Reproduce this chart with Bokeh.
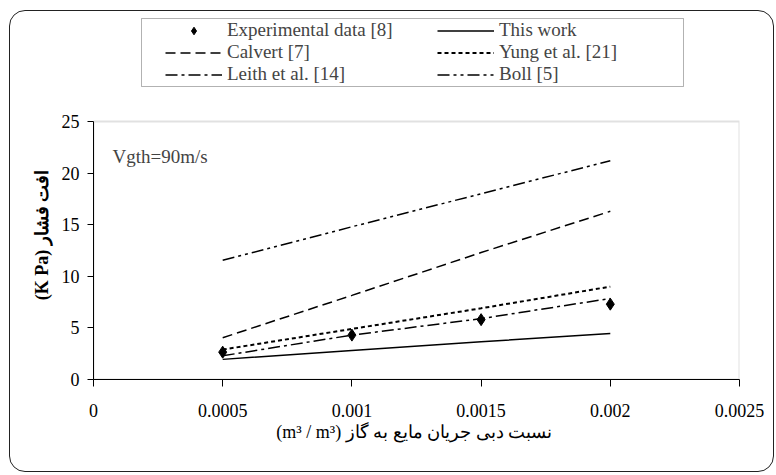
from math import pi
from bokeh.plotting import figure
from bokeh.models import (Range1d, Label, Legend, LegendItem, FixedTicker,
                          BoxAnnotation, InlineStyleSheet)
from bokeh.embed import file_html
from bokeh.resources import INLINE

# ---- data ----
ratio = [0.0005, 0.001, 0.0015, 0.002]
experimental = [2.65, 4.3, 5.8, 7.3]
this_work = [1.95, 2.8, 3.65, 4.45]
calvert = [4.05, 8.15, 12.3, 16.3]
yung = [2.9, 4.9, 6.9, 9.0]
leith = [2.3, 4.3, 5.9, 7.85]
boll = [11.55, 14.8, 18.0, 21.2]

x_ticks = [0, 0.0005, 0.001, 0.0015, 0.002, 0.0025]
x_tick_labels = ["0", "0.0005", "0.001", "0.0015", "0.002", "0.0025"]
y_ticks = [0, 5, 10, 15, 20, 25]
x_max = 0.0025
y_max = 25

series_names = ["Experimental data [8]", "This work", "Calvert [7]",
                "Yung et al. [21]", "Leith et al. [14]", "Boll [5]"]
annotation_text = "Vgth=90m/s"
y_title = "(K Pa) افت فشار"
x_title = "(m³ / m³)  نسبت دبی جریان مایع به گاز"

FONT = "Liberation Serif"

W, H = 776, 475
LEFT, RIGHT, BOTTOM = 93, 37, 96
AXIS_TOP_PX = 121            # where y = 25 sits on the canvas
frame_h = H - BOTTOM         # frame reaches the top of the canvas
y_end = y_max * frame_h / (frame_h - AXIS_TOP_PX)

# rounded outer frame of the whole chart
border_css = InlineStyleSheet(css="""
:host::after {
  content: "";
  position: absolute;
  box-sizing: border-box;
  left: 9px; top: 10px; width: 765px; height: 462px;
  border: 1.5px solid #222;
  border-radius: 16px;
  pointer-events: none;
}
""")

p = figure(width=W, height=H, output_backend="svg", toolbar_location=None,
           x_range=Range1d(0, x_max), y_range=Range1d(0, y_end),
           min_border_left=LEFT, min_border_right=RIGHT, min_border_top=0,
           min_border_bottom=BOTTOM, stylesheets=[border_css])
p.background_fill_color = "white"
p.border_fill_color = "white"
p.xgrid.grid_line_color = None
p.ygrid.grid_line_color = None
p.outline_line_color = None

for ax in (p.xaxis[0], p.yaxis[0]):
    ax.axis_line_color = "black"
    ax.axis_line_width = 1
    ax.major_tick_line_color = "black"
    ax.major_tick_in = 0
    ax.minor_tick_line_color = None
    ax.major_label_text_font = FONT
    ax.major_label_text_font_size = "18px"
    ax.major_label_text_color = "black"
    ax.axis_label_text_font = FONT
    ax.axis_label_text_font_size = "18px"
    ax.axis_label_text_color = "black"

p.xaxis.ticker = FixedTicker(ticks=x_ticks)
p.xaxis.major_label_overrides = {t: s for t, s in zip(x_ticks, x_tick_labels)}
p.xaxis.major_tick_out = 7
p.xaxis.major_label_standoff = 17
p.xaxis.axis_label = x_title
p.xaxis.axis_label_text_font_style = "normal"
p.xaxis.axis_label_standoff = 2

p.yaxis.ticker = FixedTicker(ticks=y_ticks)
p.yaxis.bounds = (0, y_max)
p.yaxis.major_tick_out = 6
p.yaxis.major_label_standoff = 8
# the title is centred on the whole frame; trailing no-break spaces move it
# down to the middle of the 0-25 axis, as in the reference
p.yaxis.axis_label = y_title + "\u00a0" * 20
p.yaxis.axis_label_text_font_style = "bold"
p.yaxis.axis_label_standoff = 7

# grey border of the plotting area (left/bottom hidden under the axes)
p.add_layout(BoxAnnotation(left=0, right=x_max, bottom=0, top=y_max,
                           fill_alpha=0, line_color="#9a9a9a", line_width=2,
                           level="underlay"))

r_this = p.line(ratio, this_work, line_color="black", line_width=1.5)
r_cal = p.line(ratio, calvert, line_color="black", line_width=1.5, line_dash="10 5")
r_yung = p.line(ratio, yung, line_color="black", line_width=2, line_dash="4 3")
r_leith = p.line(ratio, leith, line_color="black", line_width=1.5, line_dash="12 4 3 4")
r_boll = p.line(ratio, boll, line_color="black", line_width=1.5, line_dash="12 4 3 4 3 4")
r_exp = p.scatter(ratio, experimental, marker="diamond", size=12, color="black")

# legend frame
p.add_layout(BoxAnnotation(left=141, right=683, top=18, bottom=86,
                           left_units="canvas", right_units="canvas",
                           top_units="canvas", bottom_units="canvas",
                           fill_color="white", fill_alpha=1,
                           line_color="black", line_width=1))

rmap = dict(zip(series_names, [r_exp, r_this, r_cal, r_yung, r_leith, r_boll]))
# legend fills column by column: left column first
legend_order = ["Experimental data [8]", "Calvert [7]", "Leith et al. [14]",
                "This work", "Yung et al. [21]", "Boll [5]"]
legend = Legend(items=[LegendItem(label=n, renderers=[rmap[n]]) for n in legend_order],
                ncols=2, location=(72, 294), padding=0, spacing=0, margin=0,
                glyph_width=57, glyph_height=19, label_height=19, label_width=210,
                label_standoff=5, label_text_font=FONT, label_text_font_size="19px",
                border_line_color=None, background_fill_alpha=0)
p.add_layout(legend)

p.add_layout(Label(x=112, y=156, x_units="canvas", y_units="canvas", text=annotation_text,
                   text_font=FONT, text_font_size="19px", text_baseline="middle",
                   text_align="left"))

open("out.html", "w").write(file_html(p, INLINE))
